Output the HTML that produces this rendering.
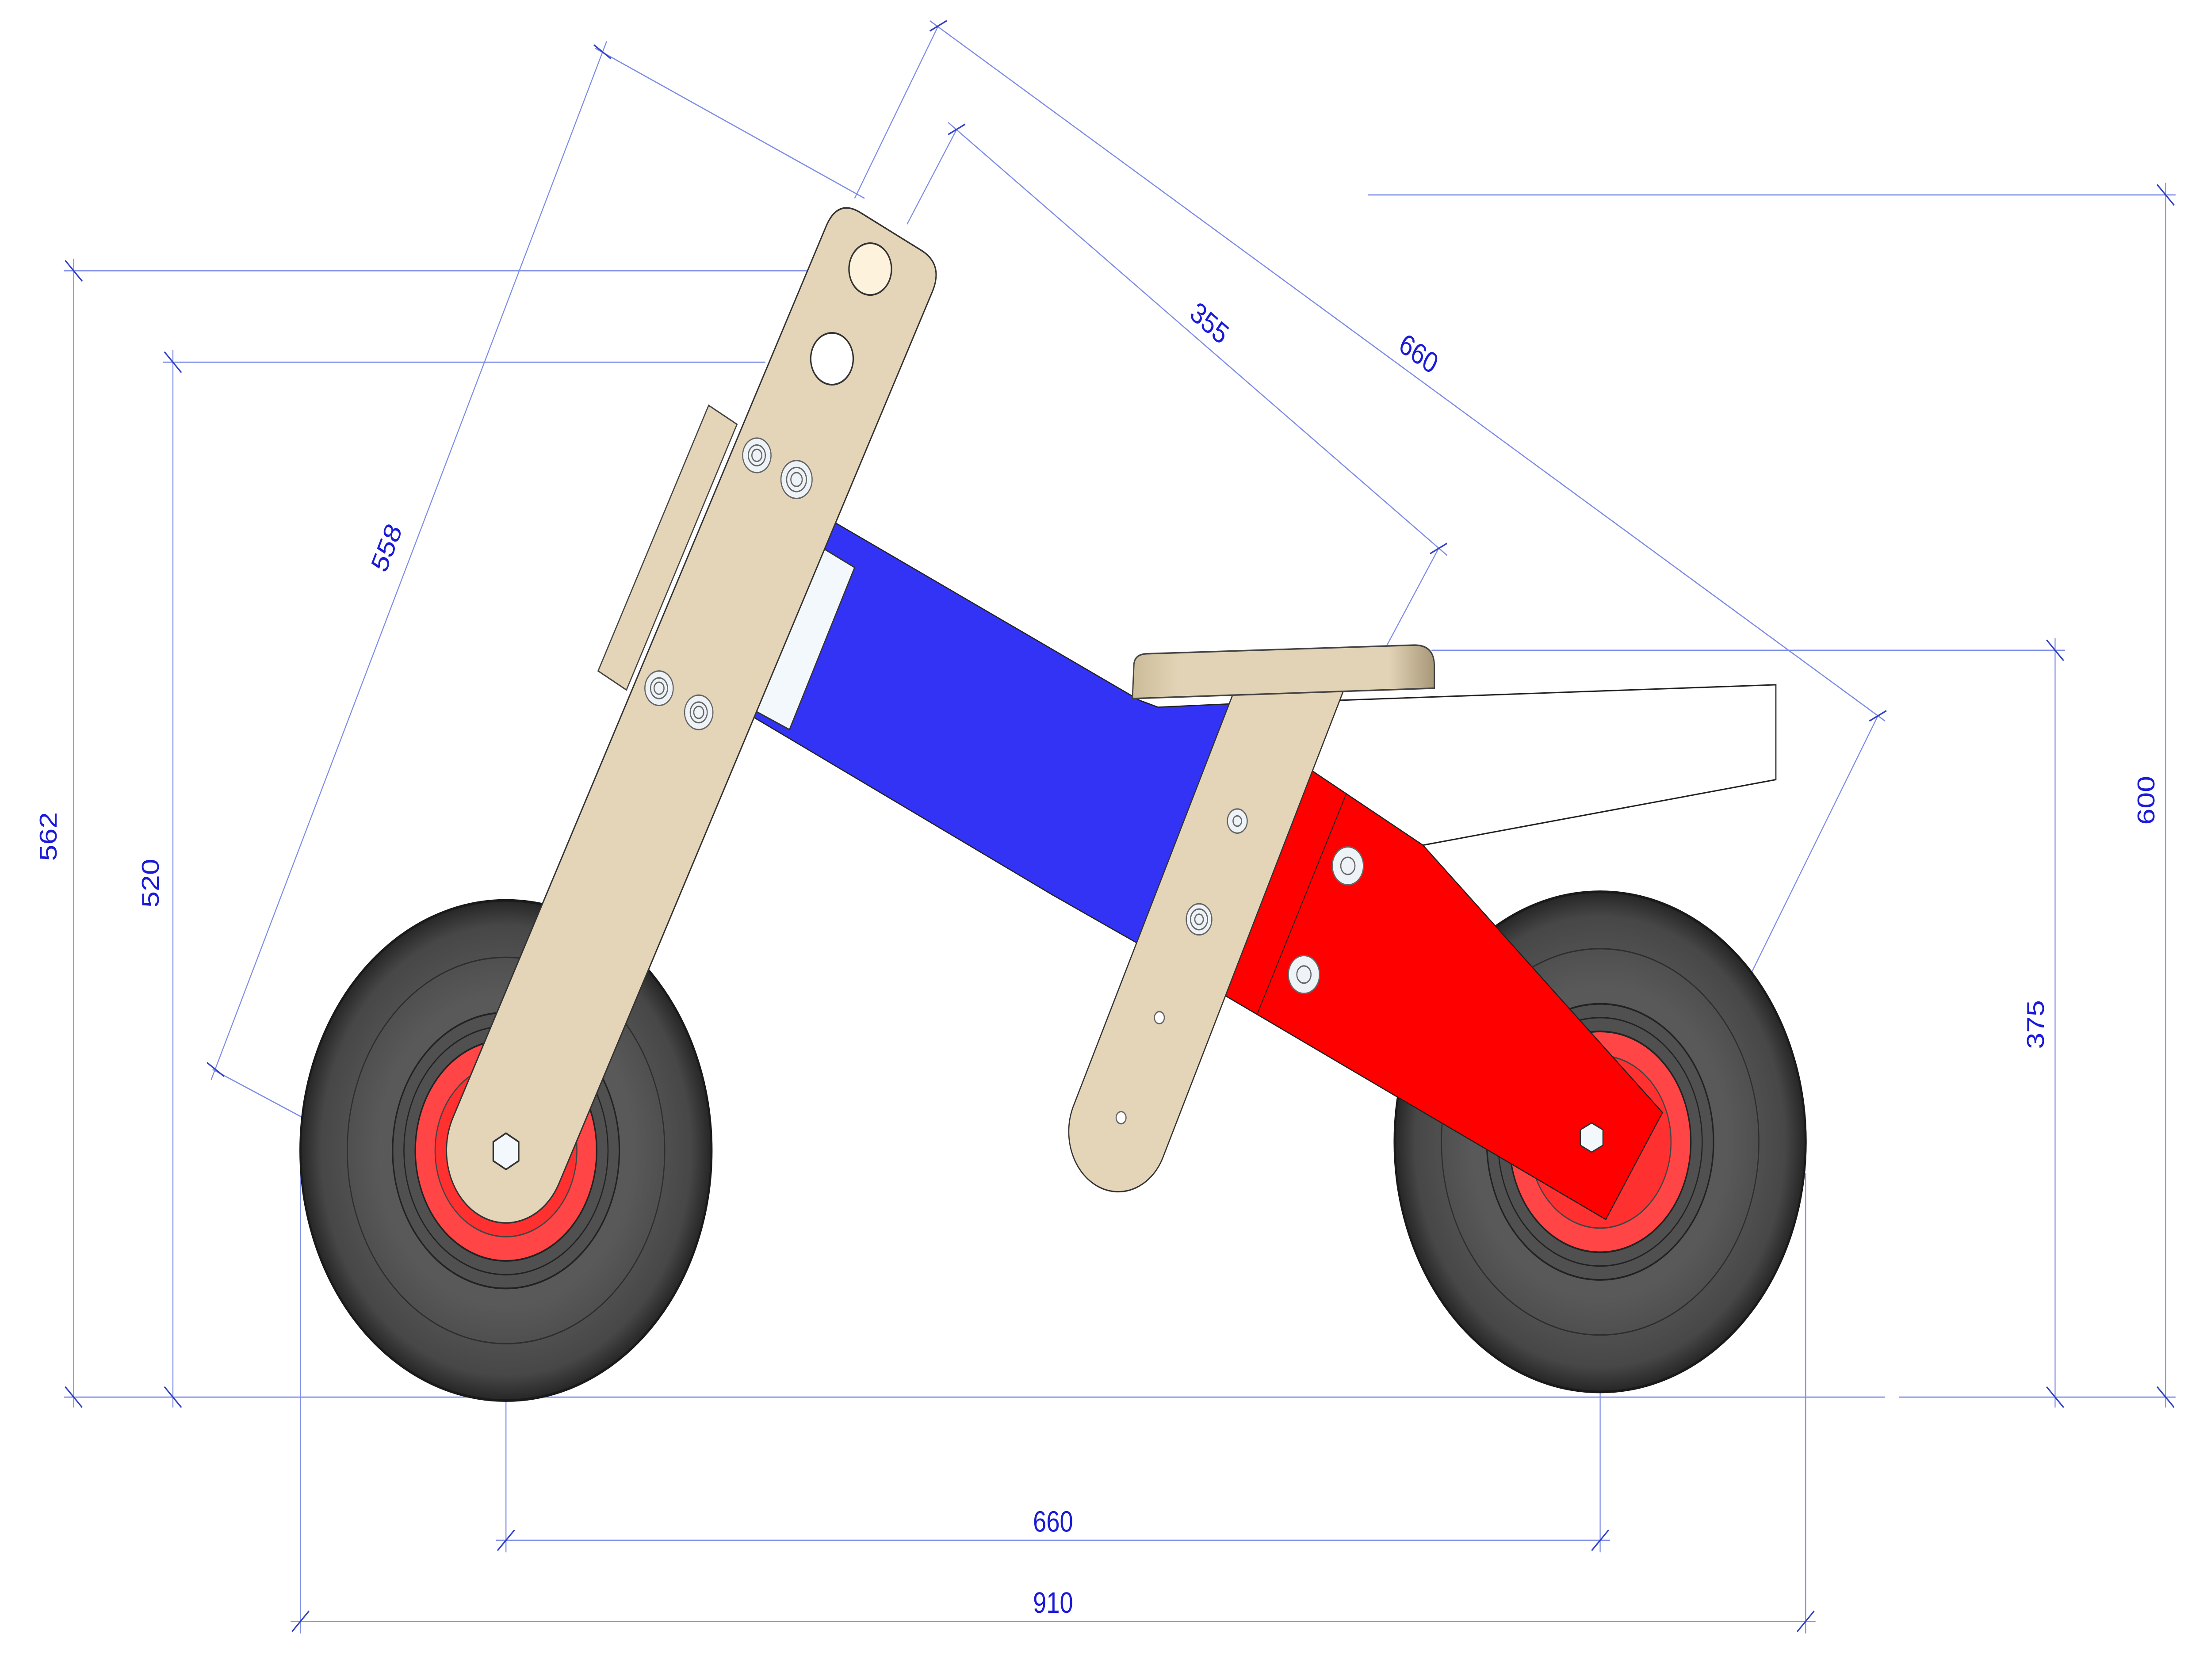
<!DOCTYPE html>
<html><head><meta charset="utf-8"><style>
html,body{margin:0;padding:0;background:#fff;width:100%;height:100%;overflow:hidden;}
svg{display:block;position:fixed;left:0;top:0;width:100vw;height:100vh;}
text{font-family:"Liberation Sans",sans-serif;font-size:17px;fill:#1a1ad8;}
.d{stroke:#7d8ce6;stroke-width:0.7;fill:none;}
.t{stroke:#3040c8;stroke-width:0.9;}
.b{fill:#eef3f8;stroke:#666;stroke-width:0.8;}
</style></head><body>
<svg viewBox="0 0 1560 974" preserveAspectRatio="none" xmlns="http://www.w3.org/2000/svg">
<defs>
<radialGradient id="tg" cx="50%" cy="50%" r="50%">
<stop offset="0.62" stop-color="#595959"/><stop offset="0.9" stop-color="#474747"/><stop offset="1" stop-color="#262626"/>
</radialGradient>
<linearGradient id="sg" x1="0" x2="1" y1="0" y2="0">
<stop offset="0" stop-color="#cbbb98"/><stop offset="0.15" stop-color="#e2d3b6"/><stop offset="0.85" stop-color="#e2d3b6"/><stop offset="1" stop-color="#a89878"/>
</linearGradient>
</defs>
<rect width="1560" height="974" fill="#fff"/>

<g class="d">
<line x1="45" y1="810" x2="1330" y2="810"/><line x1="1340" y1="810" x2="1535" y2="810"/>
<line x1="52" y1="150" x2="52" y2="816"/><line x1="45" y1="157" x2="615" y2="157"/>
<line x1="122" y1="203" x2="122" y2="816"/><line x1="115" y1="210" x2="540" y2="210"/>
<line x1="1528" y1="106" x2="1528" y2="816"/><line x1="965" y1="113" x2="1535" y2="113"/>
<line x1="1450" y1="370" x2="1450" y2="816"/><line x1="1010" y1="377" x2="1457" y2="377"/>
<line x1="350" y1="893" x2="1136" y2="893"/><line x1="357" y1="810" x2="357" y2="900"/><line x1="1129" y1="750" x2="1129" y2="900"/>
<line x1="205" y1="940" x2="1281" y2="940"/><line x1="212" y1="665" x2="212" y2="947"/><line x1="1274" y1="680" x2="1274" y2="947"/>
<line x1="428" y1="24" x2="149" y2="626"/><line x1="420" y1="28" x2="610" y2="115"/><line x1="150" y1="620" x2="282" y2="678"/>
<line x1="656" y1="12" x2="1330" y2="418"/><line x1="662" y1="15" x2="603" y2="115"/><line x1="1325" y1="415" x2="1195" y2="632"/>
<line x1="669" y1="71" x2="1021" y2="322"/><line x1="675" y1="75" x2="640" y2="130"/><line x1="1015" y1="318" x2="978" y2="375"/>
</g>
<g class="t">
<line x1="46" y1="151" x2="58" y2="163"/><line x1="46" y1="804" x2="58" y2="816"/>
<line x1="116" y1="204" x2="128" y2="216"/><line x1="116" y1="804" x2="128" y2="816"/>
<line x1="1522" y1="107" x2="1534" y2="119"/><line x1="1522" y1="804" x2="1534" y2="816"/>
<line x1="1444" y1="371" x2="1456" y2="383"/><line x1="1444" y1="804" x2="1456" y2="816"/>
<line x1="351" y1="899" x2="363" y2="887"/><line x1="1123" y1="899" x2="1135" y2="887"/>
<line x1="206" y1="946" x2="218" y2="934"/><line x1="1268" y1="946" x2="1280" y2="934"/>
<line x1="419" y1="26" x2="431" y2="34"/><line x1="146" y1="616" x2="158" y2="624"/>
<line x1="656" y1="18" x2="668" y2="12"/><line x1="1319" y1="418" x2="1331" y2="412"/>
<line x1="669" y1="78" x2="681" y2="72"/><line x1="1009" y1="321" x2="1021" y2="315"/>
</g>
<text x="40" y="485" transform="rotate(-90 40 485)" text-anchor="middle">562</text>
<text x="112" y="512" transform="rotate(-90 112 512)" text-anchor="middle">520</text>
<text x="1520" y="464" transform="rotate(-90 1520 464)" text-anchor="middle">600</text>
<text x="1442" y="594" transform="rotate(-90 1442 594)" text-anchor="middle">375</text>
<text x="743" y="888" text-anchor="middle">660</text>
<text x="743" y="935" text-anchor="middle">910</text>
<text x="278" y="320" transform="rotate(-65 278 320)" text-anchor="middle">558</text>
<text x="998" y="210" transform="rotate(31 998 210)" text-anchor="middle">660</text>
<text x="850" y="192" transform="rotate(36 850 192)" text-anchor="middle">355</text>

<!-- wheels -->
<g>
<circle cx="357" cy="667" r="145" fill="url(#tg)" stroke="#1a1a1a" stroke-width="1.5"/>
<circle cx="357" cy="667" r="112" fill="none" stroke="#2e2e2e" stroke-width="0.8"/>
<circle cx="357" cy="667" r="80" fill="#505050" stroke="#222" stroke-width="1"/>
<circle cx="357" cy="667" r="72" fill="none" stroke="#222" stroke-width="0.8"/>
<circle cx="357" cy="667" r="64" fill="#ff4545" stroke="#222" stroke-width="1"/>
<circle cx="357" cy="667" r="50" fill="#ff3030" stroke="#444" stroke-width="0.8"/>
<circle cx="1129" cy="662" r="145" fill="url(#tg)" stroke="#1a1a1a" stroke-width="1.5"/>
<circle cx="1129" cy="662" r="112" fill="none" stroke="#2e2e2e" stroke-width="0.8"/>
<circle cx="1129" cy="662" r="80" fill="#505050" stroke="#222" stroke-width="1"/>
<circle cx="1129" cy="662" r="72" fill="none" stroke="#222" stroke-width="0.8"/>
<circle cx="1129" cy="662" r="64" fill="#ff4545" stroke="#222" stroke-width="1"/>
<circle cx="1129" cy="662" r="50" fill="#ff3030" stroke="#444" stroke-width="0.8"/>
</g>

<!-- back frame lines -->
<polyline points="945,406 1253,397 1253,452 1004,490" fill="none" stroke="#222" stroke-width="0.8"/>

<!-- blue beam -->
<polygon points="585,301 804,406 817,410 870,408 805,548 743,519 528,414" fill="#3333f5" stroke="#222" stroke-width="0.7"/>
<polygon points="577,316 603,329 557,423 528,410" fill="#f2f8fc" stroke="#333" stroke-width="0.8"/>

<!-- red arm -->
<polygon points="926,447 1004,490 1173,645 1133,707 957,622 864,577" fill="#ff0000" stroke="#222" stroke-width="0.7"/>
<line x1="950" y1="460" x2="887" y2="588" stroke="#222" stroke-width="0.6"/>
<polygon points="1123,651 1131,655 1131,664 1123,668 1115,664 1115,655" fill="#f2f8fc" stroke="#333" stroke-width="0.8"/>

<!-- seat post -->
<path d="M872,398 L950,396 L821,670 A33,33 0 0 1 757,642 Z" fill="#e5d5b8" stroke="#333" stroke-width="0.8"/>
<!-- seat -->
<path d="M800,386 Q800,379 810,379 L998,374 Q1012,374 1012,386 L1012,399 L799,405 Z" fill="url(#sg)" stroke="#444" stroke-width="0.9"/>

<!-- side board & fork -->
<polygon points="500,235 520,246 442,400 422,389" fill="#e5d5b8" stroke="#444" stroke-width="0.8"/>
<g transform="translate(357,667) rotate(27)">
<path d="M-42,-580 Q-42,-598 -24,-598 L24,-598 Q42,-598 42,-580 L42,0 A42,42 0 0 1 -42,0 Z" fill="#e5d5b8" stroke="#333" stroke-width="0.9"/>
</g>

<circle cx="614" cy="156" r="15" fill="#fdf3dc" stroke="#333"/>
<circle cx="587" cy="208" r="15" fill="#fff" stroke="#333"/>
<g class="b">
<circle cx="534" cy="264" r="10"/><circle cx="534" cy="264" r="6" fill="none"/><circle cx="534" cy="264" r="3.5"/>
<circle cx="562" cy="278" r="11"/><circle cx="562" cy="278" r="7" fill="none"/><circle cx="562" cy="278" r="4"/>
<circle cx="465" cy="399" r="10"/><circle cx="465" cy="399" r="6" fill="none"/><circle cx="465" cy="399" r="3.5"/>
<circle cx="493" cy="413" r="10"/><circle cx="493" cy="413" r="6" fill="none"/><circle cx="493" cy="413" r="3.5"/>
<circle cx="873" cy="476" r="7"/><circle cx="873" cy="476" r="3"/>
<circle cx="846" cy="533" r="9"/><circle cx="846" cy="533" r="6" fill="none"/><circle cx="846" cy="533" r="3"/>
<circle cx="951" cy="502" r="11"/><circle cx="951" cy="502" r="5"/>
<circle cx="920" cy="565" r="11"/><circle cx="920" cy="565" r="5"/>
<circle cx="818" cy="590" r="3.5" fill="#fff"/><circle cx="791" cy="648" r="3.5" fill="#fff"/>
</g>
<polygon points="357,657 366,662 366,673 357,678 348,673 348,662" fill="#f2f8fc" stroke="#333"/>
</svg>
</body></html>
